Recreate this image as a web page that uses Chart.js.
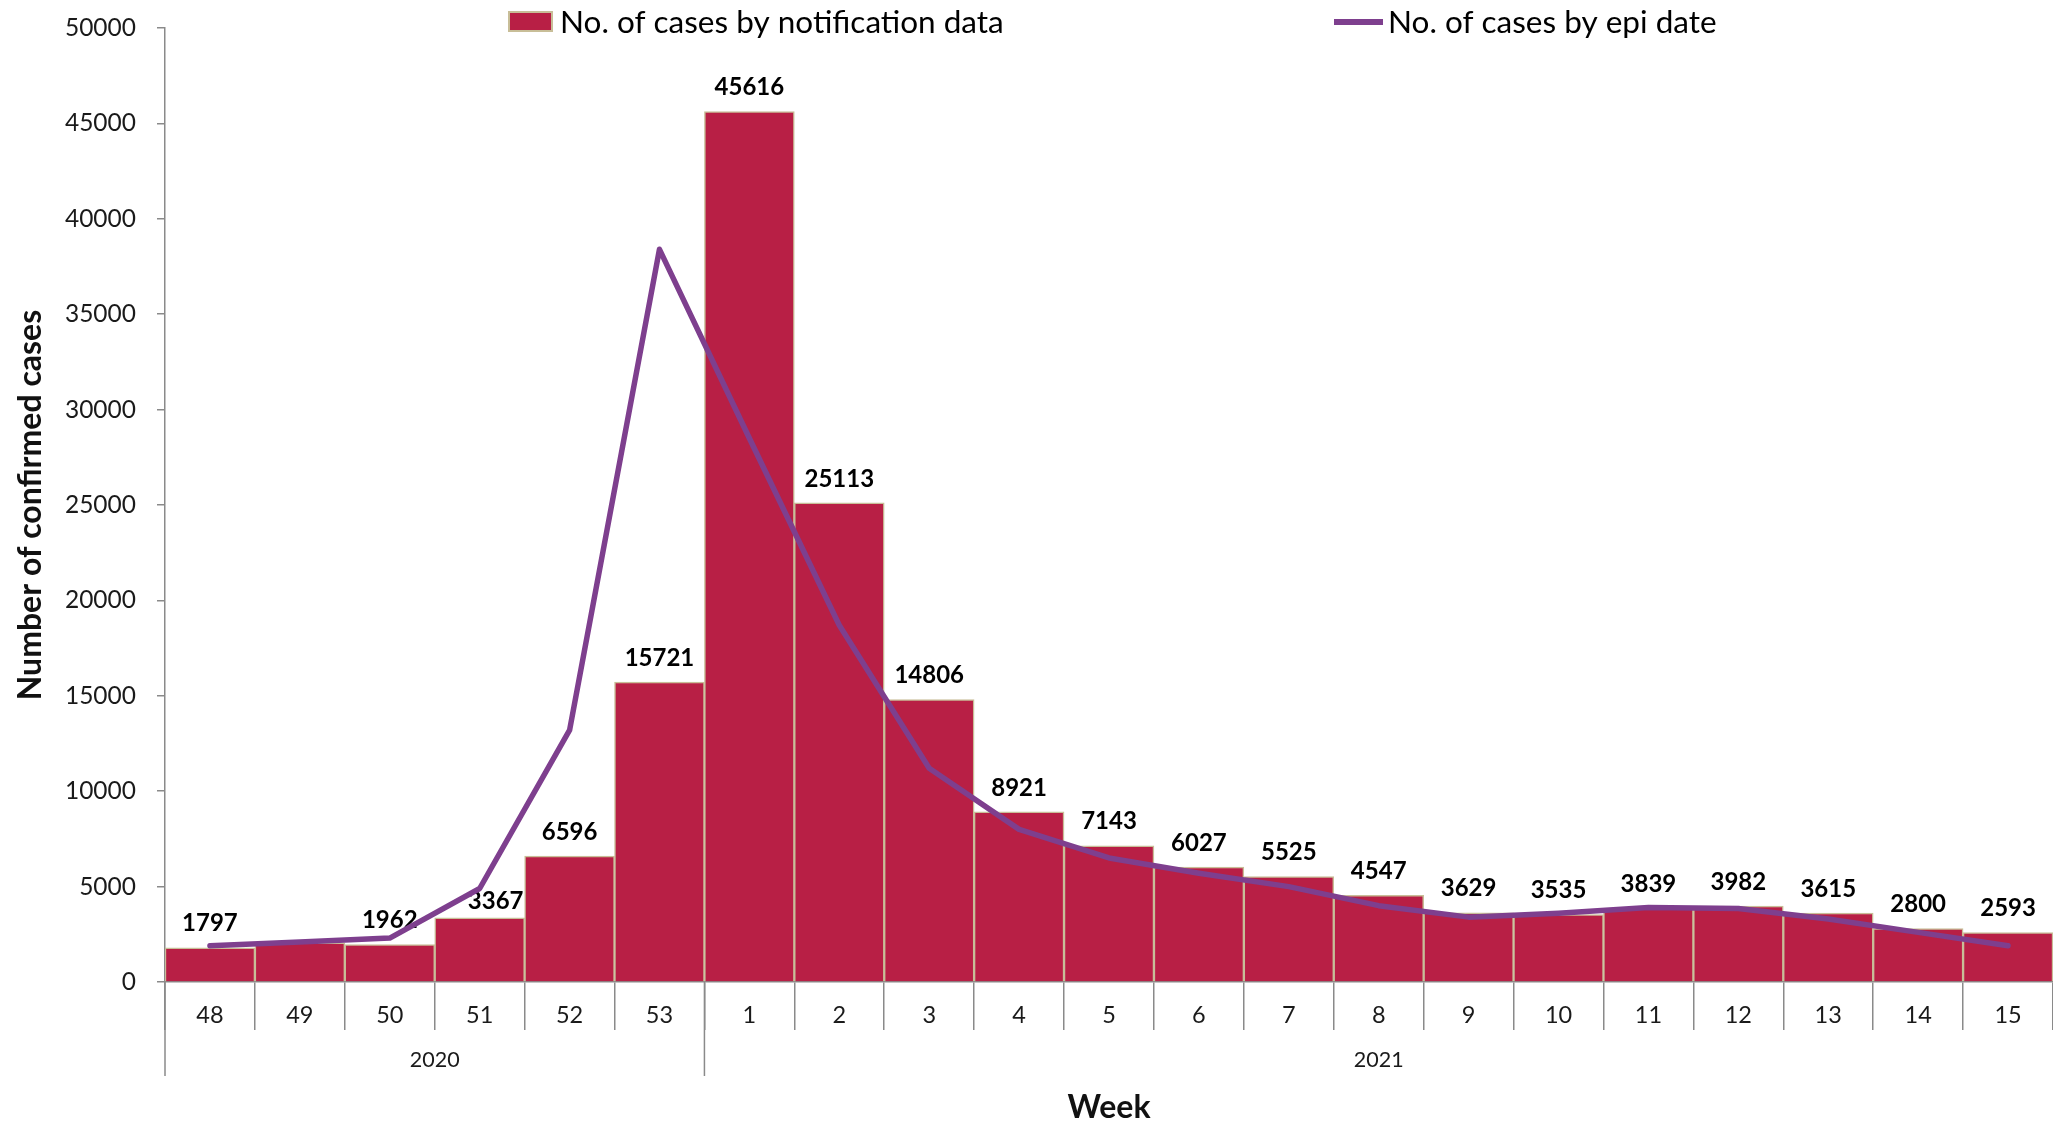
<!DOCTYPE html>
<html><head><meta charset="utf-8">
<script src="https://cdn.jsdelivr.net/npm/chart.js@4.4.1/dist/chart.umd.min.js"></script>
<style>html,body{margin:0;padding:0;background:#fff;overflow:hidden}canvas{display:block}</style>
</head><body>
<canvas id="c" width="2053" height="1127"></canvas>
<script>
const weeks = ['48','49','50','51','52','53','1','2','3','4','5','6','7','8','9','10','11','12','13','14','15'];
const years = ['2020','2021'];
const weeksPerYear = [6, 15];
const notificationCases = [1797, 2050, 1962, 3367, 6596, 15721, 45616, 25113, 14806, 8921, 7143, 6027, 5525, 4547, 3629, 3535, 3839, 3982, 3615, 2800, 2593];
const notificationLabels = ['1797', null, '1962', '3367', '6596', '15721', '45616', '25113', '14806', '8921', '7143', '6027', '5525', '4547', '3629', '3535', '3839', '3982', '3615', '2800', '2593'];
const epiCases = [1900, 2100, 2300, 4900, 13200, 38400, 28500, 18700, 11200, 8000, 6500, 5700, 5000, 4000, 3400, 3600, 3900, 3850, 3300, 2600, 1900];
const seriesNames = ['No. of cases by notification data', 'No. of cases by epi date'];
const yAxisTitle = 'Number of confirmed cases';
const xAxisTitle = 'Week';

const FONT = 'Lato, "Open Sans", sans-serif';
const BAR_FILL = '#B81F45';
const BAR_EDGE = '#C8BE98';
const LINE_COL = '#7E3F8E';
const AXIS_COL = '#8a8a8a';

// the label of week 51 was nudged aside in the original to clear the line
const labelNudge = { 3: { dx: 16, dy: 8 } };

const dataLabelPlugin = {
  id: 'dataLabels',
  beforeDatasetsDraw(chart) {
    const meta = chart.getDatasetMeta(1);
    const ctx = chart.ctx;
    ctx.save();
    ctx.font = 'bold 24px ' + FONT;
    ctx.fillStyle = '#000';
    ctx.textAlign = 'center';
    ctx.textBaseline = 'middle';
    meta.data.forEach((el, i) => {
      const t = notificationLabels[i];
      const n = labelNudge[i] || { dx: 0, dy: 0 };
      if (t) ctx.fillText(t, el.x + n.dx, el.y - 24 + n.dy);
    });
    ctx.restore();
  }
};

const groupPlugin = {
  id: 'yearGroups',
  afterDraw(chart) {
    const x = chart.scales.x;
    const ctx = chart.ctx;
    const step = x.getPixelForTick(1) - x.getPixelForTick(0);
    const base = chart.chartArea.bottom;
    ctx.save();
    ctx.strokeStyle = AXIS_COL;
    ctx.lineWidth = 1.5;
    ctx.fillStyle = '#1a1a1a';
    ctx.font = '21.5px ' + FONT;
    ctx.textAlign = 'center';
    ctx.textBaseline = 'middle';
    let start = 0;
    years.forEach((yr, k) => {
      const end = start + weeksPerYear[k] - 1;
      const x0 = x.getPixelForTick(start) - step / 2;
      const x1 = x.getPixelForTick(end) + step / 2;
      ctx.beginPath();
      ctx.moveTo(x0, base);
      ctx.lineTo(x0, base + 94);
      ctx.stroke();
      ctx.fillText(yr, (x0 + x1) / 2, base + 78);
      start = end + 1;
    });
    ctx.restore();
  }
};

const legendPlugin = {
  id: 'customLegend',
  afterDraw(chart) {
    const ctx = chart.ctx;
    ctx.save();
    ctx.font = '31.5px ' + FONT;
    ctx.textBaseline = 'middle';
    ctx.textAlign = 'left';
    ctx.fillStyle = BAR_FILL;
    ctx.fillRect(509, 12, 43, 19);
    ctx.strokeStyle = BAR_EDGE;
    ctx.lineWidth = 2;
    ctx.strokeRect(509, 12, 43, 19);
    ctx.fillStyle = '#000';
    ctx.fillText(chart.data.datasets[1].label, 560, 23);
    ctx.strokeStyle = LINE_COL;
    ctx.lineWidth = 6;
    ctx.beginPath();
    ctx.moveTo(1334, 22);
    ctx.lineTo(1383, 22);
    ctx.stroke();
    ctx.fillText(chart.data.datasets[0].label, 1388, 23);
    ctx.restore();
  }
};

new Chart(document.getElementById('c').getContext('2d'), {
  data: {
    labels: weeks,
    datasets: [
      { type: 'line', label: seriesNames[1], data: epiCases, borderColor: LINE_COL, borderWidth: 5.5,
        pointRadius: 0, tension: 0, order: 0, borderCapStyle: 'round', borderJoinStyle: 'round' },
      { type: 'bar', label: seriesNames[0], data: notificationCases, backgroundColor: BAR_FILL,
        borderColor: BAR_EDGE, borderWidth: 1.5, barPercentage: 1, categoryPercentage: 1, order: 1 }
    ]
  },
  options: {
    responsive: false,
    animation: false,
    layout: { padding: { top: 28, right: 0, left: 0, bottom: 0 } },
    plugins: { legend: { display: false }, tooltip: { enabled: false } },
    scales: {
      x: {
        type: 'category',
        offset: true,
        grid: { offset: true, drawOnChartArea: false, tickLength: 48, color: AXIS_COL, lineWidth: 1.5 },
        border: { color: AXIS_COL, width: 1.5 },
        ticks: { padding: -29, color: '#1a1a1a', font: { family: FONT, size: 23.5 }, autoSkip: false, maxRotation: 0 },
        title: { display: true, text: xAxisTitle, color: '#111', font: { family: FONT, size: 32, weight: 'bold' }, padding: { top: 0, bottom: 0 } },
        afterFit(s) { s.height = 145; s.paddingLeft = 0; s.paddingRight = 0; }
      },
      y: {
        min: 0, max: 50000,
        grid: { drawOnChartArea: false, tickLength: 8, color: AXIS_COL, lineWidth: 1.5 },
        border: { color: AXIS_COL, width: 1.5 },
        ticks: { stepSize: 5000, padding: 21, color: '#1a1a1a', font: { family: FONT, size: 24.5 },
                 callback: v => String(v) },
        title: { display: true, text: yAxisTitle, color: '#111', font: { family: FONT, size: 32, weight: 'bold' }, padding: { top: 11, bottom: 0 } },
        afterFit(s) { s.width = 165; s.paddingTop = 0; s.paddingBottom = 0; }
      }
    }
  },
  plugins: [dataLabelPlugin, groupPlugin, legendPlugin]
});
</script>
</body></html>
